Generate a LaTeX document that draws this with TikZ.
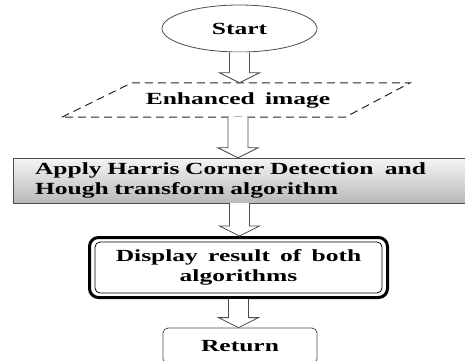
\documentclass[tikz,border=0pt]{standalone}
\usepackage{fontspec}
\setmainfont{Liberation Serif}[FakeStretch=1.5,WordSpace=1.6]
\usetikzlibrary{shapes.geometric,calc}

\begin{document}
\begin{tikzpicture}[x=1pt,y=1pt,
		every node/.style={font=\fontsize{17}{20}\selectfont\bfseries, inner sep=0pt},
		blk/.style={draw=black!70, fill=white, line width=0.8pt}]
		\useasboundingbox (0,0) rectangle (465,-360);
		\node [ellipse, draw=black!70, line width=0.8pt, minimum width=155pt, minimum height=47pt] (start) at (239.5,-28.5) {Start};
		\node [minimum width=282pt, minimum height=34pt] (enh) at (238,-100) {Enhanced image};
		\draw [black!85, line width=1pt, dash pattern=on 8pt off 5pt] ($(enh.south west)+(-35,0)$) -- ($(enh.north west)+(35,0)$) -- ($(enh.north east)+(31,0)$) -- ($(enh.south east)+(-34,0)$) -- cycle;
		\node [draw=gray!60!black, top color=gray!8, bottom color=gray!55, minimum width=453pt, minimum height=45pt, text width=409pt, inner xsep=22pt, align=left] (apply) at (239.5,-180.5) {Apply Harris Corner Detection~ and\\Hough transform algorithm};
		\node [draw, line width=3pt, rounded corners=9pt, minimum width=298pt, minimum height=60pt, align=center] (disp) at (238.5,-267.5) {Display result of both\\algorithms};
		\draw [line width=0.8pt, rounded corners=5pt] ($(disp.south west)+(7,6)$) rectangle ($(disp.north east)+(-7,-6)$);
		\node [draw=gray!60!black, line width=0.8pt, rounded corners=5pt, minimum width=154pt, minimum height=36pt] (ret) at (240,-346) {Return};
		\draw [blk] ($(start.south)+(-10,0)$) -- ($(start.south |- enh.north)+(-10,10)$) -- ++(-10,0) -- (start.south |- enh.north) -- ++(20,10) -- ++(-10,0) -- ($(start.south)+(10,0)$);
		\draw [blk] ($(enh.south)+(-10,0)$) -- ($(enh.south |- apply.north)+(-10,10)$) -- ++(-10,0) -- (enh.south |- apply.north) -- ++(20,10) -- ++(-10,0) -- ($(enh.south)+(10,0)$);
		\draw [blk] ($(apply.south)+(-10,0)$) -- ($(apply.south |- disp.north)+(-10,10)$) -- ++(-10,0) -- (apply.south |- disp.north) -- ++(20,10) -- ++(-10,0) -- ($(apply.south)+(10,0)$);
		\draw [blk] ($(disp.south)+(-10,0)$) -- ($(disp.south |- ret.north)+(-10,10)$) -- ++(-10,0) -- (disp.south |- ret.north) -- ++(20,10) -- ++(-10,0) -- ($(disp.south)+(10,0)$);
\end{tikzpicture}
\end{document}
